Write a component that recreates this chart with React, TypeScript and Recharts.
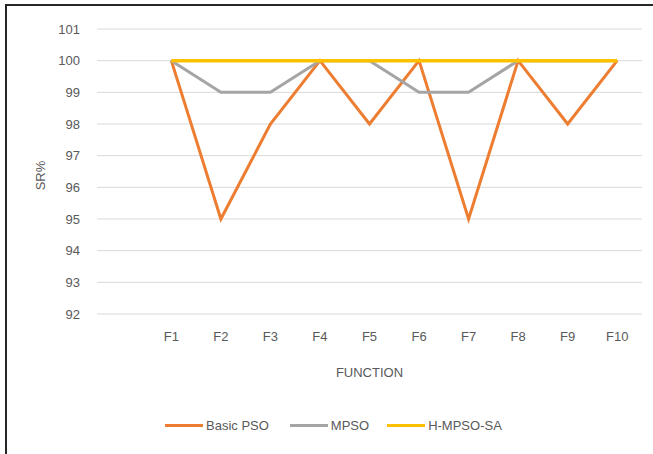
import React from 'react';
import { LineChart, Line, XAxis, YAxis, CartesianGrid, Legend, Label } from 'recharts';

const categories = ['', 'F1', 'F2', 'F3', 'F4', 'F5', 'F6', 'F7', 'F8', 'F9', 'F10'];
const basicPSO = [null, 100, 95, 98, 100, 98, 100, 95, 100, 98, 100];
const mpso = [null, 100, 99, 99, 100, 100, 99, 99, 100, 100, 100];
const hmpsoSA = [null, 100, 100, 100, 100, 100, 100, 100, 100, 100, 100];
const yTicks = [92, 93, 94, 95, 96, 97, 98, 99, 100, 101];
const seriesOrder = ['Basic PSO', 'MPSO', 'H-MPSO-SA'];

const data = categories.map((c, i) => ({
  name: c,
  basic: basicPSO[i],
  mpso: mpso[i],
  hmpso: hmpsoSA[i],
}));

const FONT = '"Liberation Sans", Arial, sans-serif';
const TEXT = '#595959';

const renderLegend = (props: any) => {
  const payload = [...(props.payload || [])].sort(
    (a: any, b: any) => seriesOrder.indexOf(a.value) - seriesOrder.indexOf(b.value)
  );
  return (
    <div style={{ display: 'flex', alignItems: 'center', fontFamily: FONT, fontSize: 13, color: TEXT }}>
      {payload.map((p: any, i: number) => (
        <div key={i} style={{ display: 'flex', alignItems: 'center', marginRight: i === 0 ? 21 : 18 }}>
          <div style={{ width: 38, height: 3.5, background: p.color, marginRight: 3 }} />
          <span>{p.value}</span>
        </div>
      ))}
    </div>
  );
};

export default function App() {
  return (
    <div style={{ position: 'absolute', left: 0, top: 0, width: 653, height: 454, background: '#fff', overflow: 'hidden' }}>
      <div
        style={{
          position: 'absolute',
          left: 5,
          top: 4,
          width: 700,
          height: 500,
          borderTop: '2px solid #262626',
          borderLeft: '2px solid #262626',
        }}
      />
      <div style={{ position: 'absolute', left: 0, top: 0 }}>
        <LineChart width={653} height={454} data={data} margin={{ top: 29, right: 11, bottom: 78, left: 0 }}>
          <CartesianGrid vertical={false} stroke="#d9d9d9" strokeWidth={1} />
          <XAxis
            dataKey="name"
            axisLine={false}
            tickLine={false}
            tickSize={0}
            tickMargin={18}
            height={62}
            interval={0}
            padding={{ left: 24.8, right: 24.8 }}
            tick={{ fill: TEXT, fontSize: 13, fontFamily: FONT }}
          >
            <Label value="FUNCTION" position="insideBottom" offset={-1} fill={TEXT} fontSize={13} fontFamily={FONT} />
          </XAxis>
          <YAxis
            domain={[92, 101]}
            ticks={yTicks}
            interval={0}
            width={97}
            axisLine={false}
            tickLine={false}
            tickSize={0}
            tickMargin={17}
            tick={{ fill: TEXT, fontSize: 13, fontFamily: FONT }}
          >
            <Label value="SR%" angle={-90} position="center" dx={-8} dy={4} fill={TEXT} fontSize={13} fontFamily={FONT} />
          </YAxis>
          <Legend
            layout="horizontal"
            verticalAlign="middle"
            align="center"
            content={renderLegend}
            wrapperStyle={{ left: 165, top: 418, width: 'auto', height: 16 }}
          />
          <Line name="Basic PSO" dataKey="basic" stroke="#ED7D31" strokeWidth={3} dot={false} isAnimationActive={false} />
          <Line name="MPSO" dataKey="mpso" stroke="#A5A5A5" strokeWidth={3} dot={false} isAnimationActive={false} />
          <Line name="H-MPSO-SA" dataKey="hmpso" stroke="#FFC000" strokeWidth={3.5} dot={false} isAnimationActive={false} />
        </LineChart>
      </div>
    </div>
  );
}
